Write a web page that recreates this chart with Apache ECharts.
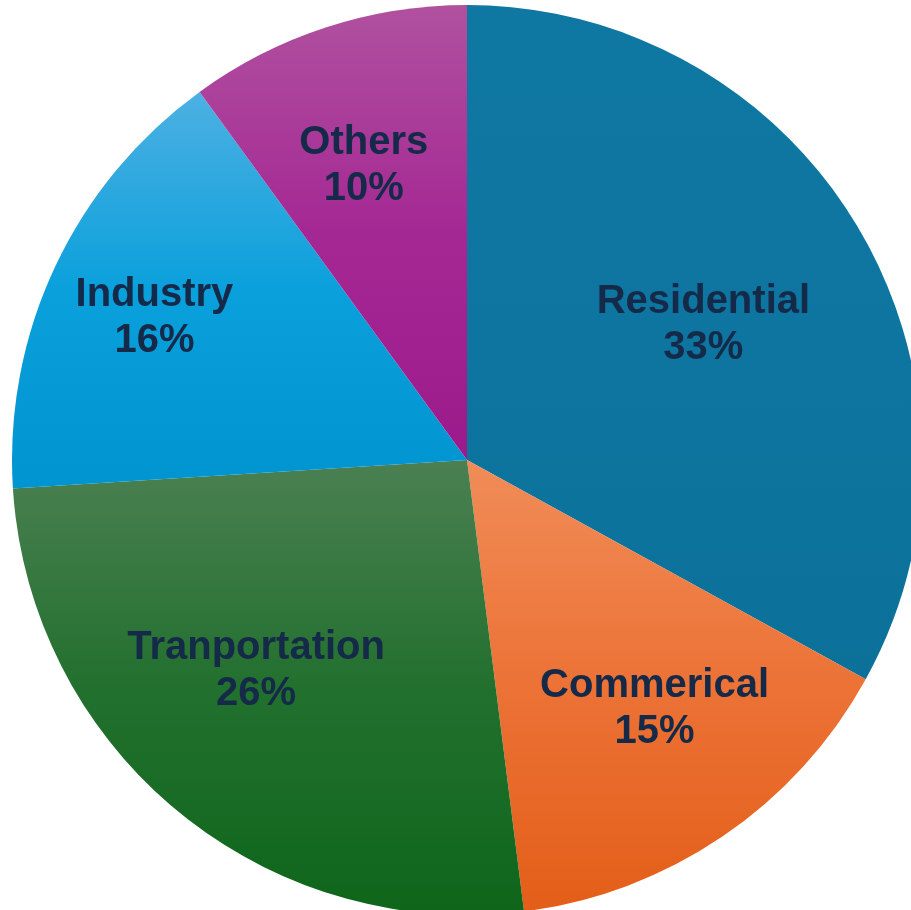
<!DOCTYPE html>
<html>
<head>
<meta charset="utf-8">
<script src="https://cdn.jsdelivr.net/npm/echarts@6/dist/echarts.min.js"></script>
<style>
  html, body { margin: 0; padding: 0; background: #ffffff; }
  #chart { width: 911px; height: 910px; }
</style>
</head>
<body>
<div id="chart"></div>
<script>
// Energy use by sector (percent)
const categories = ['Residential', 'Commerical', 'Tranportation', 'Industry', 'Others'];
const shares = [33, 15, 26, 16, 10];

// Vertical gradient per slice: [top colour, middle colour, bottom colour]
const sliceColors = [
  ['#0f78a2', '#0d75a0', '#0b7199'],
  ['#f08c58', '#ec7236', '#e35e18'],
  ['#4b8052', '#22702e', '#0e661a'],
  ['#4db0e2', '#0aa0dc', '#0094d0'],
  ['#b0519f', '#a42894', '#9c1a8b']
];

// Nudges that move each label off the slice midpoint
const labelOffsets = [[38, -18], [58, 58], [-64, 33], [-104, -44], [-32, -75]];

const chart = echarts.init(document.getElementById('chart'), null, { renderer: 'canvas' });

const data = categories.map((name, i) => ({
  name: name,
  value: shares[i],
  itemStyle: {
    color: new echarts.graphic.LinearGradient(0, 0, 0, 1, [
      { offset: 0, color: sliceColors[i][0] },
      { offset: 0.5, color: sliceColors[i][1] },
      { offset: 1, color: sliceColors[i][2] }
    ])
  },
  label: { offset: labelOffsets[i] }
}));

chart.setOption({
  animation: false,
  series: [{
    type: 'pie',
    center: [467, 460],
    radius: [0, 455],
    startAngle: 90,
    clockwise: true,
    avoidLabelOverlap: false,
    itemStyle: { borderWidth: 0 },
    label: {
      show: true,
      position: 'inside',
      formatter: p => p.name + '\n' + p.value + '%',
      color: '#142a48',
      fontFamily: '"Liberation Sans", Arial, sans-serif',
      fontWeight: 'bold',
      fontSize: 40,
      lineHeight: 46,
      align: 'center'
    },
    labelLine: { show: false },
    emphasis: { disabled: true },
    data: data
  }]
});
</script>
</body>
</html>
